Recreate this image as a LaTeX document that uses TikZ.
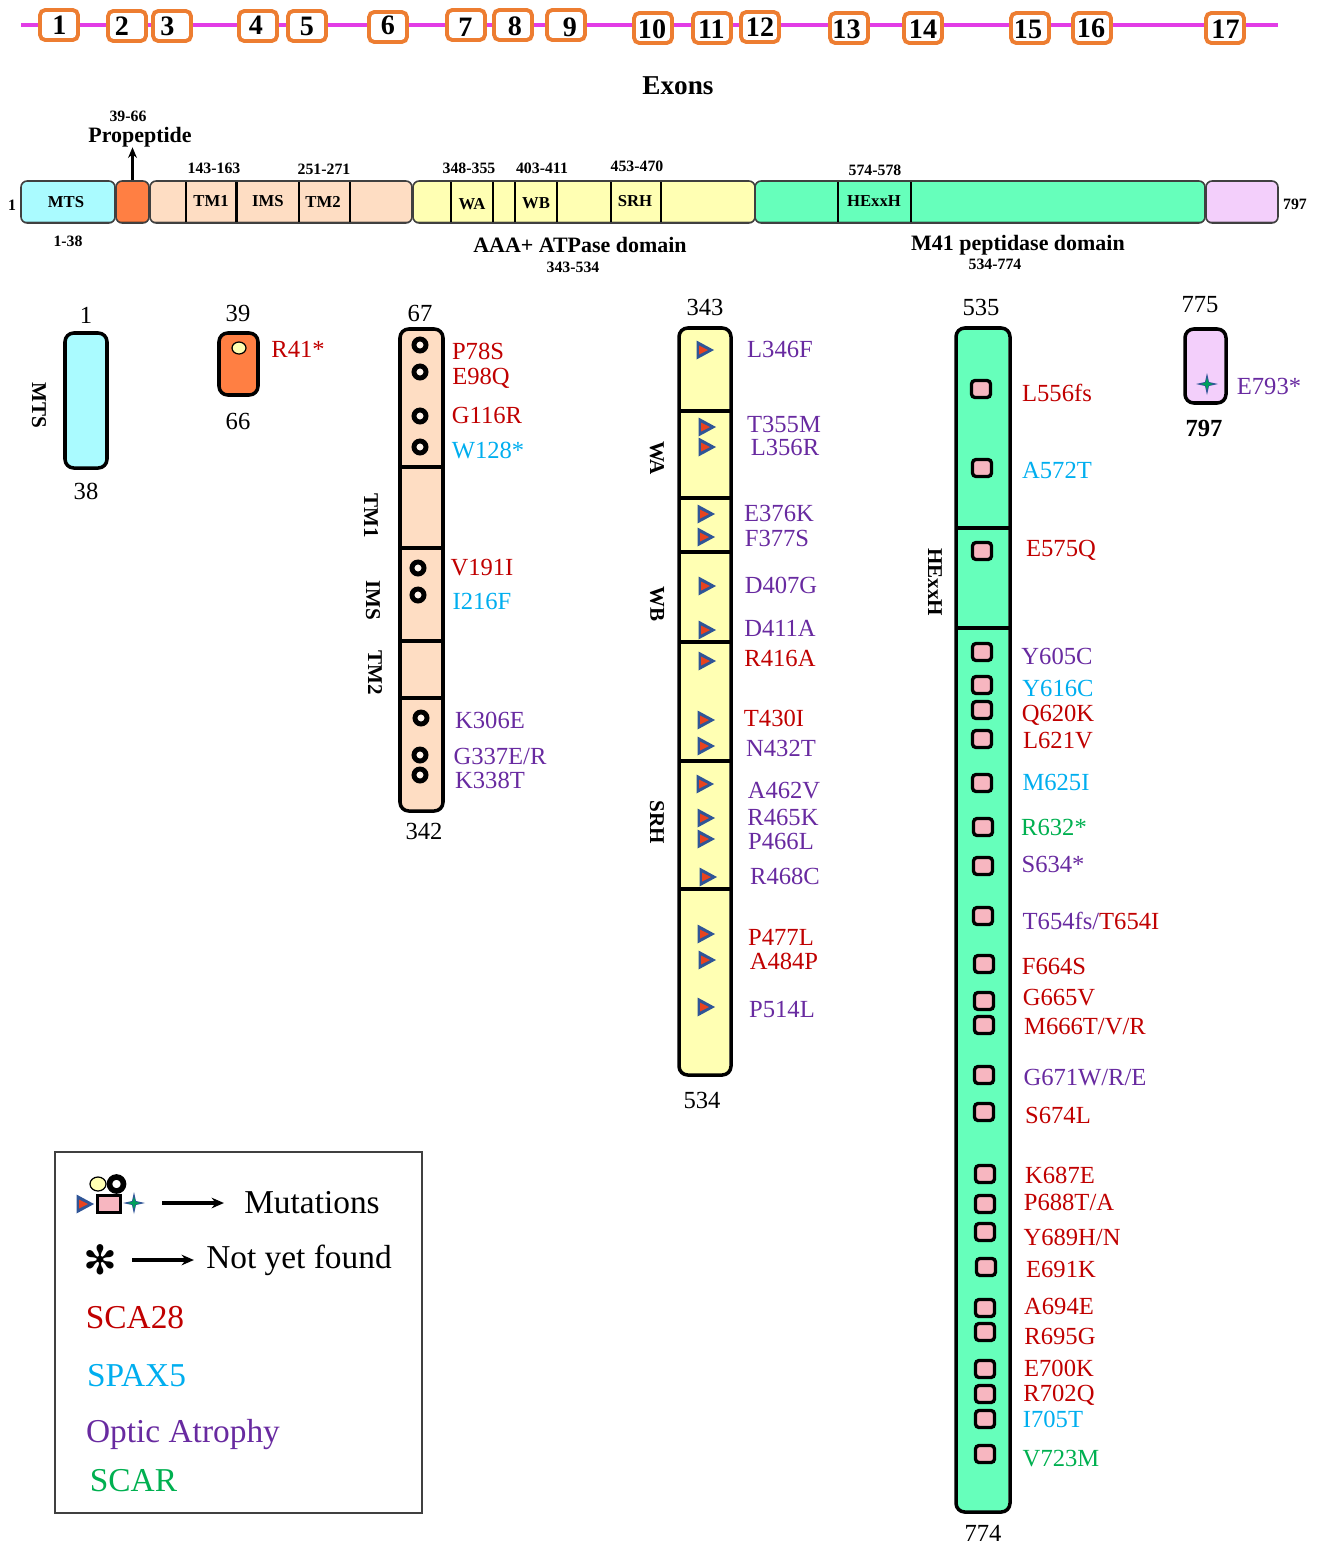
\documentclass[tikz,border=0pt]{standalone}
\usepackage{fontspec}
\setmainfont{Liberation Serif}
\newfontfamily\dingfont{DejaVu Sans}
\usetikzlibrary{arrows.meta,positioning,shapes.geometric}
\definecolor{scared}{RGB}{192,0,0}
\definecolor{spaxblue}{RGB}{0,174,239}
\definecolor{opticpurple}{RGB}{104,42,160}
\definecolor{scargreen}{RGB}{0,176,80}
\definecolor{exonline}{RGB}{226,60,230}
\definecolor{exonedge}{RGB}{237,125,49}
\definecolor{mtscyan}{RGB}{170,251,255}
\definecolor{propeporange}{RGB}{255,127,67}
\definecolor{tmpeach}{RGB}{254,221,195}
\definecolor{aaayellow}{RGB}{255,255,179}
\definecolor{peptgreen}{RGB}{102,255,187}
\definecolor{taillilac}{RGB}{243,207,251}
\definecolor{sqpink}{RGB}{247,182,192}
\definecolor{triblue}{RGB}{47,85,151}
\definecolor{trired}{RGB}{232,67,31}
\definecolor{stargreen}{RGB}{0,160,90}
\newcommand{\px}{.02cm}
\newcommand{\fsz}[1]{\fontsize{#1}{#1}\selectfont}
\tikzset{
 exonbox/.style={draw=exonedge,line width=2.2pt,fill=white,rounded corners=3pt,
  minimum width=38*\px,minimum height=30*\px,inner sep=0pt},
 exonnum/.style={font=\fsz{16}\bfseries,inner sep=0pt},
 hseg/.style={draw=black!75,line width=.9pt,rounded corners=3.5pt,inner sep=0pt,
  path picture={
   \draw[black,opacity=.22,line width=2.2pt] (path picture bounding box.south west)
    -- (path picture bounding box.south east);
   \draw[white,opacity=.45,line width=1.6pt] (path picture bounding box.north west)
    -- (path picture bounding box.north east);}},
 vseg/.style={draw=black,line width=2pt,rounded corners=5pt,inner sep=0pt,
  path picture={
   \draw[white,opacity=.6,line width=2.4pt] (path picture bounding box.north east)
    -- (path picture bounding box.south east);}},
 divline/.style={black,line width=1.8pt},
 hdivline/.style={black,line width=1.5pt},
 boxtag/.style={font=\fsz{9.5}\bfseries,inner sep=0pt},
 rangetag/.style={font=\fsz{9}\bfseries,inner sep=0pt},
 domtag/.style={font=\fsz{12.5}\bfseries,inner sep=0pt},
 sidetag/.style={font=\fsz{12}\bfseries,rotate=-90,inner sep=0pt},
 endtag/.style={font=\fsz{14},inner sep=0pt},
 mutlab/.style={font=\fsz{14},inner sep=0pt},
 legtext/.style={font=\fsz{19},inner sep=0pt},
 ringmark/.style={circle,draw=black,line width=2.8pt,fill=white!70!tmpeach,
  minimum size=12*\px,inner sep=0pt},
 sqmark/.style={draw=black,line width=1.9pt,fill=sqpink,rounded corners=2pt,
  minimum width=19*\px,minimum height=17*\px,inner sep=0pt},
 ovalmark/.style={ellipse,draw=black,line width=.7pt,fill=aaayellow,
  minimum width=14*\px,minimum height=12*\px,inner sep=0pt},
 legarrow/.style={-{Stealth[length=7pt,width=6pt]},line width=1.9pt},
 trimark/.pic={
  \fill[triblue] (-8.5,-9.5)--(9,0)--(-8.5,9.5)--cycle;
  \fill[trired] (-6,-4.5)--(3,0)--(-6,4.5)--cycle;},
 starmark/.pic={
  \fill[triblue] (-11,0)--(-2,-2)--(0,-11)--(2,-2)--(11,0)--(2,2)--(0,11)--(-2,2)--cycle;
  \fill[stargreen] (-6,0)--(-1.5,-1.5)--(0,-6)--(1.5,-1.5)--(6,0)--(1.5,1.5)--(0,6)--(-1.5,1.5)--cycle;},
}
\begin{document}
\begin{tikzpicture}[>=Stealth,x=.02cm,y=-.02cm]
 \useasboundingbox (0,0) rectangle (1320,1545);
 % exons
 \coordinate (linestart) at (21,25);
 \coordinate (lineend) at (1278,25);
 \draw[exonline,line width=2.3pt] (linestart)--(lineend);
 \foreach \x/\y/\nx/\ny/\t in {59/25/59.5/25/1,127/26/122/26/2,172/26/167.5/26/3,
  258/26/256/25/4,307/26/307/26/5,388/27/388/25/6,466/25/465.5/27/7,513/25/515/26/8,
  566/25/570/27/9,653/28/652/29/10,712/28/711.5/29/11,760/27/760/27/12,849/28/846.5/29/13,
  923/28/923/29/14,1030/28/1028/29/15,1092/28/1091/28/16,1225/28/1225.5/29/17} {
  \node[exonbox] (exon\t) at (\x,\y) {};
  \node[exonnum] at (\nx,\ny) {\t};
 }
 \node[font=\fsz{15.5}\bfseries,inner sep=0pt] (exonstitle) at (678,86) {Exons};

 % long bar
 \foreach \nm/\xa/\xb/\col in {mts/21/115/mtscyan,prop/116/149/propeporange,
  tm/150/412/tmpeach,aaa/413/755/aaayellow,pept/755/1205/peptgreen,tail/1206/1278/taillilac}
  \node[hseg,fill=\col,minimum width=(\xb-\xa)*\px,minimum height=42*\px]
   (\nm seg) at ({(\xa+\xb)/2},202) {};
 \foreach \x in {186,236.5,299,350,451,493,515,557,611,661,838,911}
  \draw[hdivline] (\x,182)--(\x,222);
 \foreach \x/\y/\t in {66/202/MTS,211/201/TM1,268/201/IMS,323/202/TM2,472/204/WA,
  536/203/WB,635/201/SRH,874/201/HExxH}
  \node[boxtag] at (\x,\y) {\t};
 \foreach \x/\y/\t in {214/168/143-163,324/169/251-271,469/168/348-355,542/168/403-411,
  637/166/453-470,875/170/574-578,128/116/39-66,68/241/1-38,573/267/343-534,
  995/264/534-774,12/205/1,1295/204/797}
  \node[rangetag] at (\x,\y) {\t};
 \node[domtag] (proptag) at (140,137) {Propeptide};
 \node[domtag] (aaatag) at (580,245) {AAA+ ATPase domain};
 \node[domtag] (pepttag) at (1018,245) {M41 peptidase domain};
 \draw[-{Stealth[length=6pt,width=5pt]},line width=1.3pt]
  (propseg.north)--(propseg.north |- proptag.south);

 % vertical bars
 \foreach \nm/\xa/\ya/\xb/\yb/\col in {mtsv/65/333/107/468/mtscyan,
  propv/219/333/258/395/propeporange,tmv/400/329/443/811/tmpeach,
  aaav/679/328/731/1075/aaayellow,peptv/956/328/1010/1512/peptgreen,
  tailv/1185/329/1226/403/taillilac}
  \node[vseg,fill=\col,minimum width=(\xb-\xa)*\px,minimum height=(\yb-\ya)*\px]
   (\nm) at ({(\xa+\xb)/2},{(\ya+\yb)/2}) {};
 \foreach \y in {467,548,641,698} \draw[divline] (400,\y)--(443,\y);
 \foreach \y in {411,498,552,642,761,889} \draw[divline] (679,\y)--(731,\y);
 \foreach \y in {528,628} \draw[divline] (956,\y)--(1010,\y);
 \foreach \x/\y/\t in {86/315/1,86/491/38,238/313/39,238/421/66,420/313/67,424/831/342,
  705/307/343,702/1100/534,981/307/535,983/1533/774,1200/305/775}
  \node[endtag] at (\x,\y) {\t};
 \node[endtag,font=\fsz{14}\bfseries] at (1204,428) {797};
 \foreach \x/\y/\t in {39/405/MTS,371/516/TM1,373/600/IMS,375/673/TM2,657/458/WA,
  657/604/WB,657/822/SRH,935/582/HExxH}
  \node[sidetag] at (\x,\y) {\t};

 % mutations
 \node[ovalmark] (oval1) at (239,348) {};
 \node[mutlab,text=scared] (ovallab1) at (298,349) {R41*};
 \foreach \mx/\my/\lx/\ly/\col/\t [count=\i] in {
  420/345/478/351/scared/P78S,420/372/481/378/scared/E98Q,420/416/487/415/scared/G116R,
  420/447/488/451/spaxblue/W128*,418/568/482/568/scared/V191I,418/595/482/601/spaxblue/I216F,
  421/718/490/720/opticpurple/K306E,420/755/500/756/opticpurple/{G337E/R},
  420/775/490/780/opticpurple/K338T} {
  \node[ringmark] (ring\i) at (\mx,\my) {};
  \node[mutlab,text=\col] (ringlab\i) at (\lx,\ly) {\t};
 }
 \foreach \mx/\my/\lx/\ly/\col/\t [count=\i] in {
  705/350/780/349/opticpurple/L346F,707/427/784/424/opticpurple/T355M,
  707/447/785/447/opticpurple/L356R,706/514/779/513/opticpurple/E376K,
  706/537/777/538/opticpurple/F377S,707/586/781/585/opticpurple/D407G,
  707/630/780/628/opticpurple/D411A,707/661/780/658/scared/R416A,
  706/720/774/718/scared/T430I,706/746/781/748/opticpurple/N432T,
  705/784/784/791/opticpurple/A462V,706/818/783/817/opticpurple/R465K,
  706/839/781/841/opticpurple/P466L,708/877/785/876/opticpurple/R468C,
  706/934/781/937/scared/P477L,707/960/784/961/scared/A484P,
  706/1007/782/1009/opticpurple/P514L} {
  \pic at (\mx,\my) {trimark};
  \node[mutlab,text=\col] (trilab\i) at (\lx,\ly) {\t};
 }
 \foreach \mx/\my/\lx/\ly/\col/\t [count=\i] in {
  981/389/1057/393/scared/L556fs,982/468/1057/470/spaxblue/A572T,
  982/551/1061/550/scared/E575Q,982/652/1057/656/opticpurple/Y605C,
  982/685/1058/688/spaxblue/Y616C,982/710/1058/715/scared/Q620K,
  982/739/1058/741/scared/L621V,982/783/1056/782/spaxblue/M625I,
  983/827/1054/827/scargreen/R632*,983/866/1053/864/opticpurple/S634*,
  983/916/1091/921/opticpurple/{T654fs/\textcolor{scared}{T654I}},
  984/964/1054/966/scared/F664S,984/1001/1059/998/scared/G665V,
  984/1025/1085/1027/scared/{M666T/V/R},984/1075/1085/1078/opticpurple/{G671W/R/E},
  984/1112/1058/1115/scared/S674L,985/1174/1060/1175/scared/K687E,
  985/1204/1069/1202/scared/{P688T/A},985/1232/1072/1237/scared/{Y689H/N},
  986/1267/1061/1269/scared/E691K,985/1308/1059/1306/scared/A694E,
  985/1332/1060/1336/scared/R695G,985/1369/1059/1368/scared/E700K,
  985/1394/1059/1395/scared/R702Q,985/1419/1053/1419/spaxblue/I705T,
  985/1454/1061/1459/scargreen/V723M} {
  \node[sqmark] (sq\i) at (\mx,\my) {};
  \node[mutlab,text=\col] (sqlab\i) at (\lx,\ly) {\t};
 }
 \pic at (1207,384) {starmark};
 \node[mutlab,text=opticpurple] (starlab) at (1269,386) {E793*};

 % legend
 \node[draw=black!75,line width=.9pt,minimum width=367*\px,minimum height=361*\px,
  inner sep=0pt] (legbox) at (238.5,1332.5) {};
 \pic at (85,1204) {trimark};
 \node[sqmark,line width=2.2pt,minimum width=23*\px,minimum height=17*\px,
  rounded corners=0pt] (legsq) at (109,1204) {};
 \node[ovalmark,minimum width=16*\px,minimum height=14*\px] (legoval) at (98,1184) {};
 \node[ringmark,fill=white,minimum size=14*\px,line width=3.2pt] (legring) at (116.5,1184) {};
 \pic at (134,1203) {starmark};
 \coordinate (legicon) at (144,1203);
 \node[legtext] (legmut) at (312,1203) {Mutations};
 \draw[legarrow] (legicon)++(18,0)--([xshift=-20*\px]legmut.west);
 \node[font=\fsz{23}\dingfont,inner sep=0pt] (legstar) at (100,1260) {✻};
 \node[legtext] (legnot) at (299,1260) {Not yet found};
 \coordinate (legnotarr) at (legnot.west |- legstar);
 \draw[legarrow] ([xshift=15*\px]legstar.east)--([xshift=-12*\px]legnotarr);
 \node[legtext,text=scared] (legsca) at (135,1318) {SCA28};
 \node[legtext,text=spaxblue] (legspax) at (136.5,1376) {SPAX5};
 \node[legtext,text=opticpurple] (legoptic) at (183,1435) {Optic Atrophy};
 \node[legtext,text=scargreen] (legscar) at (133.5,1481) {SCAR};
\end{tikzpicture}
\end{document}
